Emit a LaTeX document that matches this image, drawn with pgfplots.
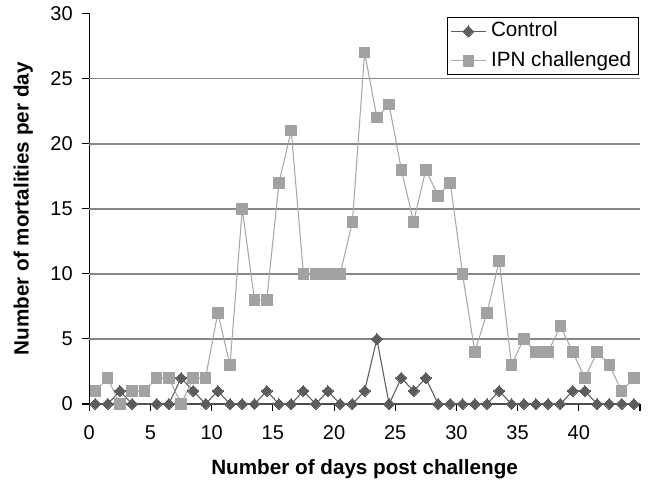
\documentclass[border=0pt]{standalone}
\usepackage{pgfplots}
\pgfplotsset{compat=1.18}
\usepackage{fontspec}
\setmainfont{Liberation Sans}
\definecolor{ctrl}{HTML}{5C5C5C}
\definecolor{ipn}{HTML}{A2A2A2}
\definecolor{ipnline}{HTML}{A8A8A8}
\definecolor{gridc}{HTML}{878787}
\begin{document}
\fontsize{15}{18}\selectfont
\begin{tikzpicture}
\useasboundingbox (0pt,0pt) rectangle (486pt,360pt);
\begin{axis}[
  at={(66.975pt,57pt)}, anchor=origin,
  scale only axis, width=413pt, height=292.9pt,
  xmin=0, xmax=45, ymin=0, ymax=30,
  axis x line=bottom, axis y line=left,
  x axis line style={-, draw=black!70, line width=1.2pt},
  y axis line style={-, draw=black, line width=0.9pt},
  tick align=outside, major tick length=5.25pt,
  xtick={0,5,...,45}, xticklabels={0,5,10,15,20,25,30,35,40,{}},
  ytick={0,5,...,30},
  every tick/.style={black, line width=0.8pt},
  extra y ticks={5,10,15,20,25},
  extra y tick style={grid=major, major tick length=0pt, yticklabels={}},
  grid style={draw=gridc, line width=1.35pt},
  /pgf/number format/assume math mode=true,
  ticklabel style={font=\fontsize{15}{18}\selectfont},
  xticklabel style={yshift=-5.5pt},
  yticklabel style={xshift=-2pt},
  xlabel={\bfseries Number of days post challenge},
  ylabel={\bfseries Number of mortalities per day},
  label style={font=\fontsize{15.5}{18}\selectfont},
  xlabel style={at={(axis description cs:0.5,-0.1665)}, anchor=center},
  ylabel style={at={(axis description cs:-0.1200,0.5)}, anchor=center},
  legend style={at={(1,1)}, anchor=north east, xshift=-0.75pt, yshift=-2.6pt,
    draw=black, line width=0.6pt, fill=white, font=\fontsize{15.5}{18}\selectfont,
    inner xsep=2pt, inner ysep=1.5pt, row sep=4pt,
    nodes={inner xsep=3.5pt, inner ysep=2pt, text height=11pt, text depth=3pt}},
  legend cell align=left,
  legend image code/.code={\draw[mark repeat=2,mark phase=2,#1] plot coordinates {(0pt,0pt) (13.1pt,0pt) (26.25pt,0pt)};},
  clip=false,
]
\addplot[ctrl, line width=0.8pt, mark=square*, mark size=2.9pt, mark options={rotate=45, fill=ctrl, draw=ctrl, line width=0pt}]
coordinates {
(0.5,0) (1.5,0) (2.5,1) (3.5,0) (5.5,0) (6.5,0) (7.5,2) (8.5,1) (9.5,0)
(10.5,1) (11.5,0) (12.5,0) (13.5,0) (14.5,1) (15.5,0) (16.5,0) (17.5,1) (18.5,0) (19.5,1)
(20.5,0) (21.5,0) (22.5,1) (23.5,5) (24.5,0) (25.5,2) (26.5,1) (27.5,2) (28.5,0) (29.5,0)
(30.5,0) (31.5,0) (32.5,0) (33.5,1) (34.5,0) (35.5,0) (36.5,0) (37.5,0) (38.5,0) (39.5,1)
(40.5,1) (41.5,0) (42.5,0) (43.5,0) (44.5,0)
};
\addlegendentry{Control}
\addplot[ipnline, line width=0.8pt, mark=square*, mark size=4pt, mark options={fill=ipn, draw=ipn, line width=0pt}]
coordinates {
(0.5,1) (1.5,2) (2.5,0) (3.5,1) (4.5,1) (5.5,2) (6.5,2) (7.5,0) (8.5,2) (9.5,2)
(10.5,7) (11.5,3) (12.5,15) (13.5,8) (14.5,8) (15.5,17) (16.5,21) (17.5,10) (18.5,10) (19.5,10)
(20.5,10) (21.5,14) (22.5,27) (23.5,22) (24.5,23) (25.5,18) (26.5,14) (27.5,18) (28.5,16) (29.5,17)
(30.5,10) (31.5,4) (32.5,7) (33.5,11) (34.5,3) (35.5,5) (36.5,4) (37.5,4) (38.5,6) (39.5,4)
(40.5,2) (41.5,4) (42.5,3) (43.5,1) (44.5,2)
};
\addlegendentry{IPN challenged}
\end{axis}
\end{tikzpicture}
\end{document}
